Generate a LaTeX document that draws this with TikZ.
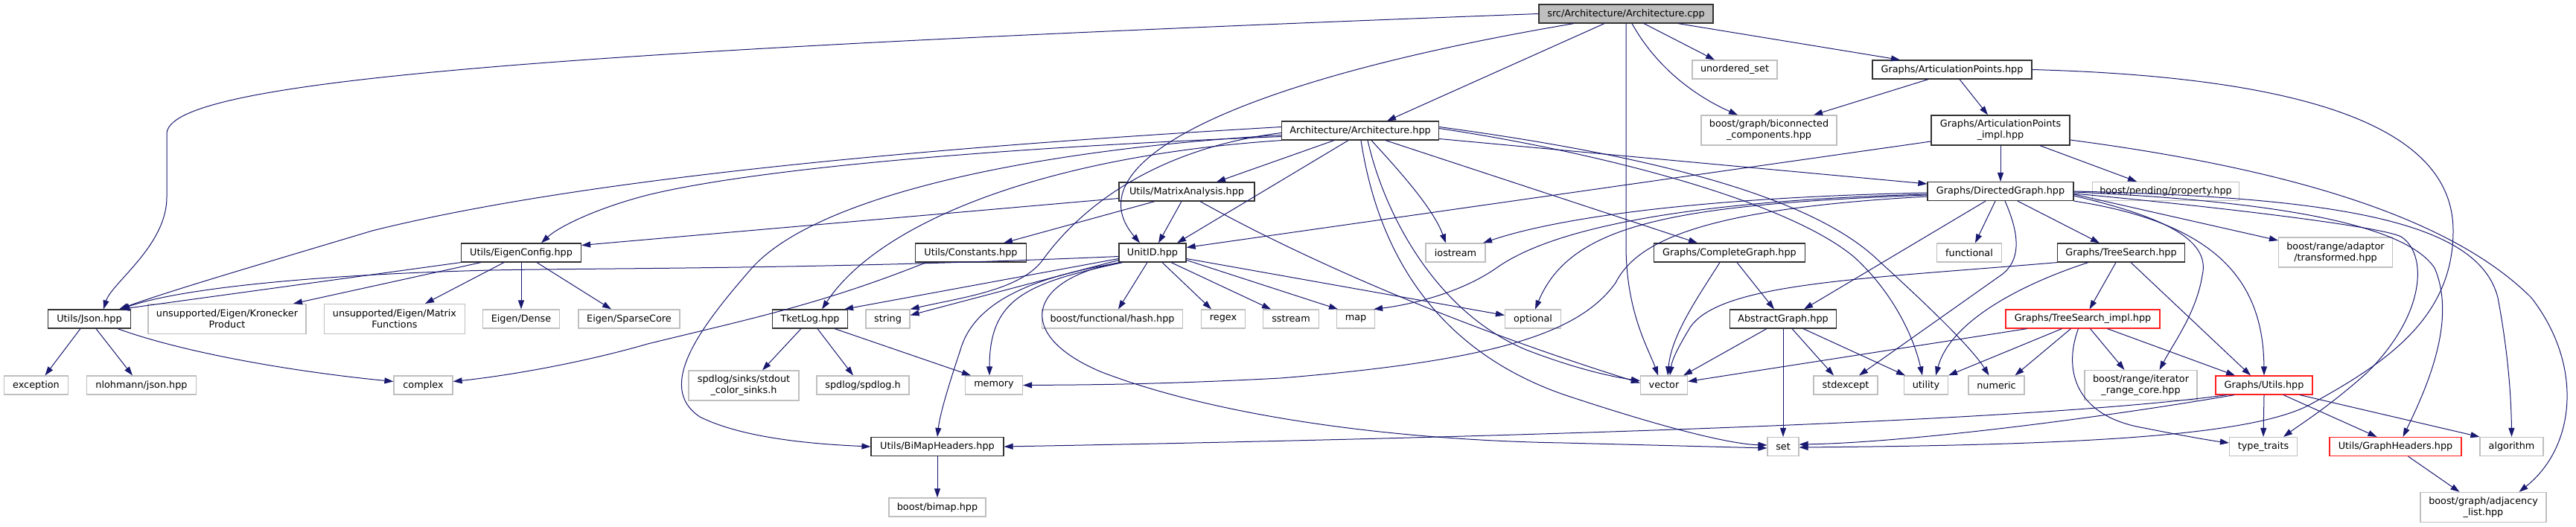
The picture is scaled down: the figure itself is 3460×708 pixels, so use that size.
\documentclass[tikz,border=0pt]{standalone}
\usepackage{fontspec}
\usetikzlibrary{arrows.meta}
\newfontfamily\dvs{DejaVu Sans}
\newcommand\gfont{\dvs\fontsize{12.8}{15}\selectfont}
\definecolor{edgec}{HTML}{191970}
\definecolor{docc}{HTML}{333333}
\definecolor{extc}{HTML}{BFBFBF}
\definecolor{redc}{HTML}{FF2020}
\definecolor{mainfill}{HTML}{BFBFBF}
\tikzset{
  box/.style={draw, rectangle, inner sep=0pt, minimum height=25pt, font=\gfont, align=center, line width=1.2pt, fill=white},
  doc/.style={box, draw=docc},
  ext/.style={box, draw=extc},
  trunc/.style={box, draw=redc},
  tall/.style={minimum height=40pt},
  e/.style={draw=edgec, line width=1pt, -{Triangle[length=12pt,width=8pt]}}
}
\begin{document}
\begin{tikzpicture}[x=1pt,y=-1pt]
\useasboundingbox (0,0) rectangle (3460,708);
\fill[white] (0,0) rectangle (3460,708);
% nodes
\node[doc, fill=mainfill, minimum width=234pt] (cpp) at (2184,18.5) {src/Architecture/Architecture.cpp};
\node[ext, minimum width=114pt] (uset) at (2330,93.5) {unordered\_set};
\node[doc, minimum width=214pt] (artp) at (2622,93.5) {Graphs/ArticulationPoints.hpp};
\node[ext, tall, minimum width=182pt] (bicon) at (2376,175) {boost/graph/biconnected\\\_components.hpp};
\node[doc, minimum width=211pt] (archh) at (1827,175.5) {Architecture/Architecture.hpp};
\node[doc, tall, minimum width=186pt] (artpi) at (2687,175) {Graphs/ArticulationPoints\\\_impl.hpp};
\node[doc, minimum width=196pt] (dg) at (2687,257) {Graphs/DirectedGraph.hpp};
\node[ext, minimum width=197pt] (prop) at (2909,257) {boost/pending/property.hpp};
\node[doc, minimum width=182pt] (matan) at (1594,257.5) {Utils/MatrixAnalysis.hpp};
\node[doc, minimum width=161pt] (eigen) at (700,339.5) {Utils/EigenConfig.hpp};
\node[doc, minimum width=149pt] (consts) at (1304,339.5) {Utils/Constants.hpp};
\node[doc, minimum width=90pt] (unitid) at (1548,339.5) {UnitID.hpp};
\node[ext, minimum width=80pt] (iostream) at (1955,339.5) {iostream};
\node[doc, minimum width=203pt] (cg) at (2323,339.5) {Graphs/CompleteGraph.hpp};
\node[ext, minimum width=87pt] (functional) at (2645,339.5) {functional};
\node[doc, minimum width=171pt] (ts) at (2849,339.5) {Graphs/TreeSearch.hpp};
\node[ext, tall, minimum width=153pt] (transformed) at (3137,339) {boost/range/adaptor\\/transformed.hpp};
\node[doc, minimum width=111pt] (json) at (120,428.5) {Utils/Json.hpp};
\node[ext, tall, minimum width=212pt] (kron) at (305,428.5) {unsupported/Eigen/Kronecker\\Product};
\node[ext, tall, minimum width=189pt] (matfun) at (530,428.5) {unsupported/Eigen/Matrix\\Functions};
\node[ext, minimum width=103pt] (dense) at (700,428.5) {Eigen/Dense};
\node[ext, minimum width=136pt] (sparse) at (845,428.5) {Eigen/SparseCore};
\node[doc, minimum width=101pt] (tket) at (1088,428.5) {TketLog.hpp};
\node[ext, minimum width=59pt] (string) at (1192.5,428.5) {string};
\node[ext, minimum width=189pt] (hash) at (1494,428.5) {boost/functional/hash.hpp};
\node[ext, minimum width=59pt] (regex) at (1643,428.5) {regex};
\node[ext, minimum width=75pt] (sstream) at (1734,428.5) {sstream};
\node[ext, minimum width=51pt] (map) at (1821,428.5) {map};
\node[ext, minimum width=75pt] (optional) at (2059,428.5) {optional};
\node[doc, minimum width=143pt] (ag) at (2395,428.5) {AbstractGraph.hpp};
\node[trunc, minimum width=207pt] (tsi) at (2797.5,428.5) {Graphs/TreeSearch\_impl.hpp};
\node[ext, minimum width=86pt] (exception) at (48.5,517.5) {exception};
\node[ext, minimum width=147pt] (nlohmann) at (190,517.5) {nlohmann/json.hpp};
\node[ext, minimum width=79pt] (complex) at (568.5,517.5) {complex};
\node[ext, tall, minimum width=148pt] (stdout) at (999,518) {spdlog/sinks/stdout\\\_color\_sinks.h};
\node[ext, minimum width=124pt] (spdlog) at (1159,517.5) {spdlog/spdlog.h};
\node[ext, minimum width=77pt] (memory) at (1335,517.5) {memory};
\node[ext, minimum width=63pt] (vector) at (2235,517.5) {vector};
\node[ext, minimum width=86pt] (stdexcept) at (2479,517.5) {stdexcept};
\node[ext, minimum width=59pt] (utility) at (2587,517.5) {utility};
\node[ext, minimum width=75pt] (numeric) at (2681.5,517.5) {numeric};
\node[ext, tall, minimum width=151pt] (irc) at (2875.5,517.5) {boost/range/iterator\\\_range\_core.hpp};
\node[trunc, minimum width=130pt] (gu) at (3041,517.5) {Graphs/Utils.hpp};
\node[doc, minimum width=178pt] (bimap) at (1259,600) {Utils/BiMapHeaders.hpp};
\node[ext, minimum width=42pt] (set) at (2395,600) {set};
\node[ext, minimum width=91pt] (tt) at (3040,600) {type\_traits};
\node[trunc, minimum width=177pt] (gh) at (3217.5,600) {Utils/GraphHeaders.hpp};
\node[ext, minimum width=85pt] (algo) at (3373.5,600) {algorithm};
\node[ext, minimum width=130pt] (bimaphpp) at (1259,681.5) {boost/bimap.hpp};
\node[ext, tall, minimum width=169pt] (adj) at (3335.5,681.5) {boost/graph/adjacency\\\_list.hpp};
% edges from cpp
\draw[e] (cpp.west) .. controls (700,70) and (224,110) .. (224,180) -- (224,265) .. controls (224,330) and (150,380) .. ([xshift=19pt]json.north);
\draw[e] ([xshift=-29pt]cpp.south) -- ([xshift=36pt]archh.north);
\draw[e] ([xshift=-70pt]cpp.south) .. controls (1650,110) and (1440,220) .. ([xshift=-17pt]unitid.north);
\draw[e] (cpp.south) -- (2184,330) .. controls (2184,420) and (2215,470) .. ([xshift=-8pt]vector.north);
\draw[e] ([xshift=8pt]cpp.south) .. controls (2230,100) and (2290,135) .. ([xshift=-42pt]bicon.north);
\draw[e] ([xshift=24pt]cpp.south) -- ([xshift=-27pt]uset.north);
\draw[e] ([xshift=70pt]cpp.south) -- ([xshift=-70pt]artp.north);
% artp
\draw[e] ([xshift=-32pt]artp.south) -- ([xshift=60pt]bicon.north);
\draw[e] ([xshift=10pt]artp.south) -- ([xshift=-17pt]artpi.north);
\draw[e] (artp.east) .. controls (3150,105) and (3295,190) .. (3295,310) .. controls (3295,430) and (3200,490) .. (3100,545) .. controls (3020,585) and (2800,598) .. ([yshift=-1pt]set.east);
% artpi
\draw[e] (artpi.south) -- (dg.north);
\draw[e] ([xshift=53pt]artpi.south) -- ([xshift=-39pt]prop.north);
\draw[e] ([yshift=-15pt]artpi.west) -- ([yshift=7pt]unitid.east);
\draw[e] ([yshift=-13pt]artpi.east) .. controls (3100,230) and (3300,300) .. (3400,400) .. controls (3470,490) and (3460,600) .. ([xshift=48pt]adj.north);
% archh
\draw[e] ([xshift=-35pt]archh.south) -- ([xshift=40pt]matan.north);
\draw[e] ([xshift=-16pt]archh.south) -- ([xshift=33pt]unitid.north);
\draw[e] ([yshift=-8pt]archh.west) .. controls (1300,200) and (1000,230) .. (870,262) .. controls (800,280) and (750,305) .. ([xshift=27pt]eigen.north);
\draw[e] ([yshift=5pt]archh.west) .. controls (1300,195) and (800,235) .. (500,310) .. controls (350,355) and (230,390) .. ([xshift=40pt]json.north);
\draw[e] (archh.south west) .. controls (1400,210) and (1180,300) .. ([xshift=16pt]tket.north);
\draw[e] ([yshift=-6pt]archh.west) .. controls (1400,200) and (1100,260) .. (1010,360) .. controls (940,440) and (880,520) .. (940,560) .. controls (1000,590) and (1100,597) .. (bimap.west);
\draw[e] ([yshift=-3pt]archh.west) .. controls (1550,200) and (1450,280) .. (1400,350) .. controls (1370,390) and (1290,400) .. (string.north east);
\draw[e] ([xshift=1pt]archh.south) .. controls (1845,300) and (1900,460) .. (2100,530) .. controls (2250,580) and (2330,597) .. ([yshift=2pt]set.west);
\draw[e] ([xshift=10pt]archh.south) .. controls (1860,290) and (1930,420) .. (2050,470) .. controls (2120,497) and (2170,507) .. ([yshift=6pt]vector.west);
\draw[e] ([xshift=15pt]archh.south) .. controls (1880,230) and (1925,280) .. ([xshift=-13pt]iostream.north);
\draw[e] ([xshift=34pt]archh.south) -- ([xshift=-43pt]cg.north);
\draw[e] ([yshift=-11pt]archh.east) -- ([yshift=10pt]dg.west);
\draw[e] ([yshift=5pt]archh.east) .. controls (2150,200) and (2420,250) .. (2523,350) .. controls (2600,420) and (2650,470) .. ([xshift=-10pt]numeric.north);
\draw[e] ([yshift=3pt]archh.east) .. controls (2150,205) and (2400,270) .. (2490,345) .. controls (2540,390) and (2570,450) .. ([xshift=-5pt]utility.north);
% matan
\draw[e] ([yshift=-9pt]matan.west) -- ([yshift=10pt]eigen.east);
\draw[e] ([xshift=-43pt]matan.south) -- ([xshift=44pt]consts.north);
\draw[e] ([xshift=-7pt]matan.south) -- ([xshift=8pt]unitid.north);
\draw[e] ([xshift=18pt]matan.south) .. controls (1700,320) and (1900,420) .. ([yshift=3pt]vector.west);
% unitid
\draw[e] ([xshift=-7pt]unitid.south) -- ([xshift=8pt]hash.north);
\draw[e] ([xshift=13pt]unitid.south) -- ([xshift=-16pt]regex.north);
\draw[e] ([xshift=25pt]unitid.south) -- ([xshift=-27pt]sstream.north);
\draw[e] ([yshift=-10pt]unitid.east) -- ([xshift=-24pt]map.north);
\draw[e] ([yshift=-8pt]unitid.east) -- ([yshift=5pt]optional.west);
\draw[e] ([yshift=-5pt]unitid.west) .. controls (1100,362) and (800,360) .. (660,363) .. controls (450,368) and (250,385) .. ([xshift=42pt]json.north);
\draw[e] ([yshift=-8pt]unitid.west) -- ([xshift=-5pt]tket.north east);
\draw[e] ([yshift=-10pt]unitid.west) -- ([yshift=5pt]string.east);
\draw[e] ([xshift=-40pt]unitid.south) .. controls (1380,380) and (1329,400) .. ([xshift=-6pt]memory.north);
\draw[e] ([xshift=-42pt]unitid.south) .. controls (1400,370) and (1310,400) .. (1290,470) .. controls (1270,530) and (1262,560) .. (bimap.north);
\draw[e] ([xshift=-44pt]unitid.south) .. controls (1380,375) and (1360,450) .. (1480,500) .. controls (1650,565) and (1900,592) .. (2100,595) -- ([yshift=-2pt]set.west);
% consts
\draw[e] ([xshift=-60pt]consts.south) .. controls (1100,410) and (1000,430) .. (870,462) .. controls (780,488) and (680,505) .. ([yshift=5pt]complex.east);
% eigen
\draw[e] (eigen.south west) -- ([xshift=42pt]json.north);
\draw[e] ([xshift=-54pt]eigen.south) -- ([xshift=89pt]kron.north);
\draw[e] ([xshift=-23pt]eigen.south) -- ([xshift=41pt]matfun.north);
\draw[e] (eigen.south) -- (dense.north);
\draw[e] ([xshift=21pt]eigen.south) -- ([xshift=-24pt]sparse.north);
% json
\draw[e] ([xshift=-12pt]json.south) -- ([xshift=12pt]exception.north);
\draw[e] ([xshift=9pt]json.south) -- ([xshift=-12pt]nlohmann.north);
\draw[e] ([xshift=38pt]json.south) .. controls (250,475) and (400,500) .. ([yshift=5pt]complex.west);
% tket
\draw[e] ([xshift=-12pt]tket.south) -- ([xshift=25pt]stdout.north);
\draw[e] ([xshift=10pt]tket.south) -- ([xshift=-13pt]spdlog.north);
\draw[e] ([xshift=33pt]tket.south) -- ([xshift=-31pt]memory.north);
% bimap
\draw[e] (bimap) -- (bimaphpp);
% cg
\draw[e] ([xshift=-13pt]cg.south) .. controls (2280,400) and (2245,450) .. ([xshift=5pt]vector.north);
\draw[e] ([xshift=10pt]cg.south) -- ([xshift=-12pt]ag.north);
% ag
\draw[e] ([xshift=-22pt]ag.south) -- ([xshift=-6pt]vector.north east);
\draw[e] (ag.south) -- (set.north);
\draw[e] ([xshift=12pt]ag.south) -- ([xshift=-16pt]stdexcept.north);
\draw[e] ([xshift=27pt]ag.south) -- ([xshift=-28pt]utility.north);
% dg
\draw[e] ([xshift=-7pt]dg.south) -- ([xshift=8pt]functional.north);
\draw[e] ([xshift=-20pt]dg.south) -- ([xshift=28pt]ag.north);
\draw[e] ([xshift=6pt]dg.south) .. controls (2715,320) and (2712,350) .. (2690,368) -- ([xshift=18pt]stdexcept.north);
\draw[e] ([xshift=23pt]dg.south) -- ([xshift=-29pt]ts.north);
\draw[e] ([yshift=-4pt]dg.east) -- ([yshift=16pt]transformed.west);
\draw[e] ([yshift=-6pt]dg.east) .. controls (2900,290) and (2970,320) .. (2958,370) .. controls (2950,420) and (2920,460) .. ([xshift=25pt]irc.north);
\draw[e] (dg.south east) .. controls (2980,300) and (3040,380) .. (gu.north);
\draw[e] ([yshift=-3pt]dg.east) .. controls (3000,280) and (3200,305) .. (3225,318) .. controls (3260,340) and (3260,420) .. (3180,500) .. controls (3130,545) and (3090,570) .. ([xshift=27pt]tt.north);
\draw[e] ([yshift=-1pt]dg.east) .. controls (3050,270) and (3230,300) .. (3270,360) .. controls (3300,430) and (3260,520) .. ([xshift=10pt]gh.north);
\draw[e] (dg.east) .. controls (3150,265) and (3330,300) .. (3355,400) .. controls (3370,480) and (3373,540) .. (algo.north);
\draw[e] ([yshift=-2pt]dg.west) .. controls (2300,265) and (2100,290) .. ([xshift=37pt]iostream.north);
\draw[e] ([yshift=-4pt]dg.west) .. controls (2250,270) and (2080,310) .. (2010,360) .. controls (1960,395) and (1890,410) .. ([xshift=-2pt]map.north east);
\draw[e] ([yshift=-5pt]dg.west) .. controls (2250,275) and (2110,300) .. ([xshift=3pt]optional.north);
\draw[e] ([yshift=-7pt]dg.west) .. controls (2300,280) and (2200,320) .. (2170,380) .. controls (2120,450) and (2000,485) .. (1720,508) .. controls (1550,517) and (1450,517) .. (memory.east);
% ts
\draw[e] (ts.south west) .. controls (2500,375) and (2310,380) .. (2270,440) .. controls (2255,465) and (2246,482) .. ([xshift=8pt]vector.north);
\draw[e] ([xshift=-44pt]ts.south) .. controls (2720,380) and (2620,430) .. ([xshift=13pt]utility.north);
\draw[e] ([xshift=-7pt]ts.south) -- ([xshift=9pt]tsi.north);
\draw[e] ([xshift=13pt]ts.south) -- ([xshift=-18pt]gu.north);
% tsi
\draw[e] ([xshift=-75pt]tsi.south) -- ([yshift=5pt]vector.east);
\draw[e] ([xshift=-28pt]tsi.south) -- (utility.north east);
\draw[e] ([xshift=-16pt]tsi.south) -- ([xshift=25pt]numeric.north);
\draw[e] ([xshift=10pt]tsi.south) -- ([xshift=-22pt]irc.north);
\draw[e] ([xshift=33pt]tsi.south) -- ([xshift=-39pt]gu.north);
\draw[e] ([xshift=-6pt]tsi.south) .. controls (2770,500) and (2790,560) .. (2880,575) .. controls (2930,585) and (2970,592) .. ([yshift=5pt]tt.west);
% gu
\draw[e] (gu.south) -- (tt.north);
\draw[e] ([xshift=26pt]gu.south) -- ([xshift=-25pt]gh.north);
\draw[e] ([xshift=48pt]gu.south) -- (algo.north west);
\draw[e] ([xshift=-40pt]gu.south) .. controls (2800,565) and (2550,595) .. ([yshift=3pt]set.east);
\draw[e] ([xshift=-50pt]gu.south) .. controls (2700,570) and (1900,590) .. (bimap.east);
% gh
\draw[e] ([xshift=17pt]gh.south) -- ([xshift=-32pt]adj.north);
\end{tikzpicture}
\end{document}
